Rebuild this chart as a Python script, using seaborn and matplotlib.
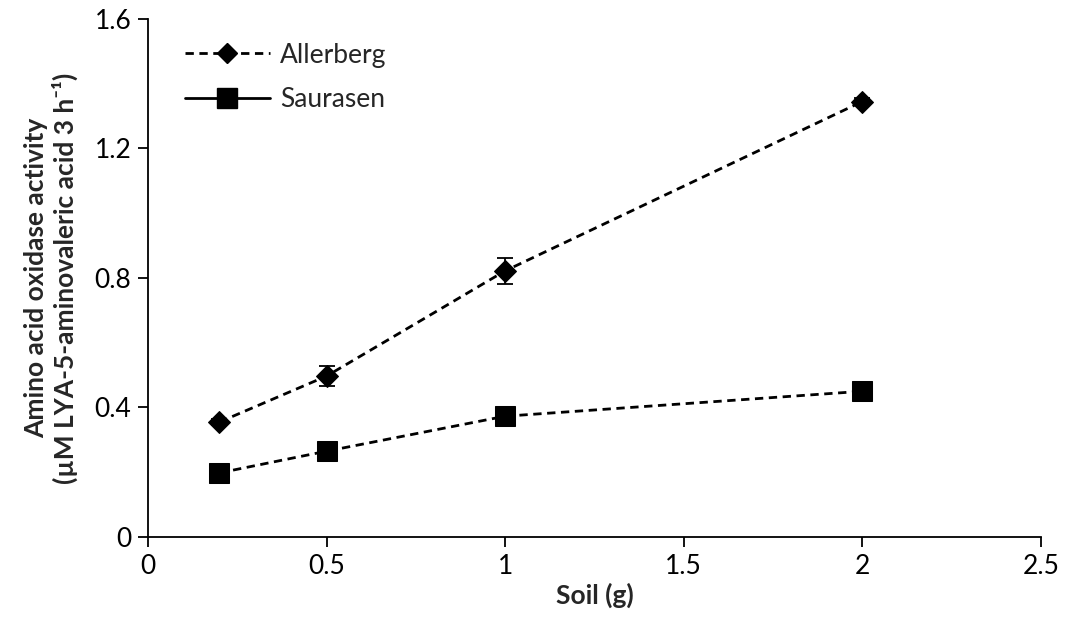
import matplotlib
matplotlib.use("Agg")
import matplotlib.pyplot as plt
from matplotlib.lines import Line2D
import seaborn as sns
import pandas as pd

# Soil mass (g) and measured activity
soil = [0.2, 0.5, 1.0, 2.0]
allerberg = [0.355, 0.497, 0.822, 1.345]
allerberg_err = [0.008, 0.032, 0.04, 0.012]
saurasen = [0.198, 0.265, 0.373, 0.450]
saurasen_err = [0.006, 0.008, 0.008, 0.006]

df = pd.DataFrame({
    "soil": soil * 2,
    "activity": allerberg + saurasen,
    "site": ["Allerberg"] * 4 + ["Saurasen"] * 4,
})

sns.set_theme(style="ticks")
plt.rcParams["font.family"] = ["Lato", "DejaVu Sans"]

fig = plt.figure(figsize=(10.82, 6.36), dpi=100)
ax = fig.add_axes([0.1368, 0.1557, 0.8252, 0.8145])

# error bars first so the markers sit on top
ax.errorbar(soil, allerberg, yerr=allerberg_err, fmt="none", ecolor="black",
            elinewidth=1.3, capsize=6, capthick=1.3, zorder=2)
ax.errorbar(soil, saurasen, yerr=saurasen_err, fmt="none", ecolor="black",
            elinewidth=1.3, capsize=6, capthick=1.3, zorder=2)

sns.lineplot(data=df[df.site == "Allerberg"], x="soil", y="activity", ax=ax,
             color="black", linestyle=(0, (3, 2)), linewidth=2,
             marker="D", markersize=11, markeredgecolor="black", zorder=3)
sns.lineplot(data=df[df.site == "Saurasen"], x="soil", y="activity", ax=ax,
             color="black", linestyle=(0, (3, 2)), linewidth=2,
             marker="s", markersize=14, markeredgecolor="black", zorder=3)

ax.set_xlim(0, 2.5)
ax.set_ylim(0, 1.6)
ax.set_xticks([0, 0.5, 1, 1.5, 2, 2.5])
ax.set_xticklabels(["0", "0.5", "1", "1.5", "2", "2.5"])
ax.set_yticks([0, 0.4, 0.8, 1.2, 1.6])
ax.set_yticklabels(["0", "0.4", "0.8", "1.2", "1.6"])
ax.tick_params(axis="both", direction="out", length=7, width=1.3,
               labelsize=19, color="black", labelcolor="black", pad=5)
for side in ["top", "right"]:
    ax.spines[side].set_visible(False)
for side in ["left", "bottom"]:
    ax.spines[side].set_color("black")
    ax.spines[side].set_linewidth(1.3)

ax.set_xlabel("Soil (g)", fontsize=19, fontweight="bold", labelpad=3)
ax.set_ylabel("Amino acid oxidase activity\n(µM LYA-5-aminovaleric acid 3 h⁻¹)",
              fontsize=19, fontweight="bold", labelpad=12, linespacing=1.15)

handles = [
    Line2D([], [], color="black", linestyle=(0, (3, 2)), linewidth=2,
           marker="D", markersize=10),
    Line2D([], [], color="black", linestyle="-", linewidth=2,
           marker="s", markersize=14),
]
ax.legend(handles, ["Allerberg", "Saurasen"], loc="upper left",
          bbox_to_anchor=(0.015, 1.0), frameon=False, fontsize=19,
          handlelength=3.2, labelspacing=0.75, handletextpad=0.4)

fig.savefig("out.png", dpi=100)
